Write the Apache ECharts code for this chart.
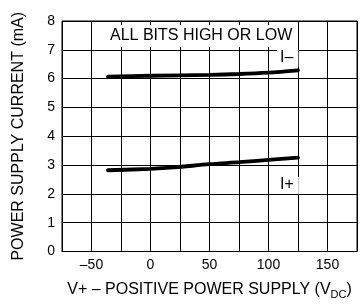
<!DOCTYPE html>
<html>
<head>
<meta charset="utf-8">
<script src="https://cdn.jsdelivr.net/npm/echarts@6/dist/echarts.min.js"></script>
<style>
  html, body { margin: 0; padding: 0; background: #fff; }
  #chart { width: 360px; height: 305px; }
</style>
</head>
<body>
<div id="chart"></div>
<script>
  // supply voltage (V) vs current (mA)
  var iMinusX = [-36, 0, 50, 75, 100, 125];
  var iMinusY = [6.07, 6.1, 6.13, 6.16, 6.21, 6.29];
  var iPlusX = [-36, 0, 20, 50, 75, 100, 125];
  var iPlusY = [2.82, 2.87, 2.92, 3.03, 3.1, 3.18, 3.26];
  var xLabels = [-50, 0, 50, 100, 150];
  var yLabels = [0, 1, 2, 3, 4, 5, 6, 7, 8];

  function pairs(xs, ys) {
    return xs.map(function (x, i) { return [x, ys[i]]; });
  }

  var font = 'Liberation Sans, Arial, sans-serif';
  var chart = echarts.init(document.getElementById('chart'));

  chart.setOption({
    animation: false,
    grid: {
      left: 62, right: 3, top: 21, bottom: 50,
      show: true, borderColor: '#000', borderWidth: 1
    },
    xAxis: {
      type: 'value',
      min: -75, max: 175, interval: 25,
      axisLine: { lineStyle: { color: '#000', width: 1 } },
      axisTick: { show: false },
      splitLine: { lineStyle: { color: '#000', width: 1 } },
      axisLabel: {
        color: '#000', fontSize: 14, fontFamily: font, margin: 7,
        formatter: function (v) {
          return xLabels.indexOf(v) >= 0 ? String(v).replace('-', '\u2013') : '';
        }
      },
      name: '{n|V+ \u2013 POSITIVE POWER SUPPLY (V}{s|DC}{n|)}',
      nameLocation: 'middle',
      nameGap: 30,
      nameTextStyle: {
        rich: {
          n: { fontSize: 16, fontFamily: font, color: '#000', lineHeight: 19, verticalAlign: 'top' },
          s: { fontSize: 11, fontFamily: font, color: '#000', lineHeight: 19, padding: [7, 0, 0, 0] }
        }
      }
    },
    yAxis: {
      type: 'value',
      min: 0, max: 8, interval: 1,
      axisLine: { show: true, lineStyle: { color: '#000', width: 1 } },
      axisTick: { show: false },
      splitLine: { lineStyle: { color: '#000', width: 1 } },
      axisLabel: {
        color: '#000', fontSize: 14, fontFamily: font, margin: 7,
        formatter: function (v) { return yLabels.indexOf(v) >= 0 ? String(v) : ''; }
      },
      name: 'POWER SUPPLY CURRENT (mA)',
      nameLocation: 'middle',
      nameGap: 35,
      nameTextStyle: { color: '#000', fontSize: 16, fontFamily: font }
    },
    series: [
      {
        name: 'I-', type: 'line', data: pairs(iMinusX, iMinusY),
        symbol: 'none', smooth: 0.3,
        lineStyle: { color: '#000', width: 3.8, cap: 'round' }
      },
      {
        name: 'I+', type: 'line', data: pairs(iPlusX, iPlusY),
        symbol: 'none', smooth: 0.3,
        lineStyle: { color: '#000', width: 3.8, cap: 'round' }
      }
    ],
    graphic: [
      {
        type: 'text', x: 106, y: 25, z: 100,
        style: {
          text: 'ALL BITS HIGH OR LOW', font: '16px ' + font, fill: '#000',
          backgroundColor: '#fff', padding: [3, 4, 3, 4]
        }
      },
      {
        type: 'text', x: 277, y: 50, z: 100,
        style: {
          text: 'I\u2013', font: '16px ' + font, fill: '#000',
          backgroundColor: '#fff', padding: [0, 5, 1, 3]
        }
      },
      {
        type: 'text', x: 277, y: 177, z: 100,
        style: {
          text: 'I+', font: '16px ' + font, fill: '#000',
          backgroundColor: '#fff', padding: [0, 5, 1, 3]
        }
      }
    ]
  });
</script>
</body>
</html>
